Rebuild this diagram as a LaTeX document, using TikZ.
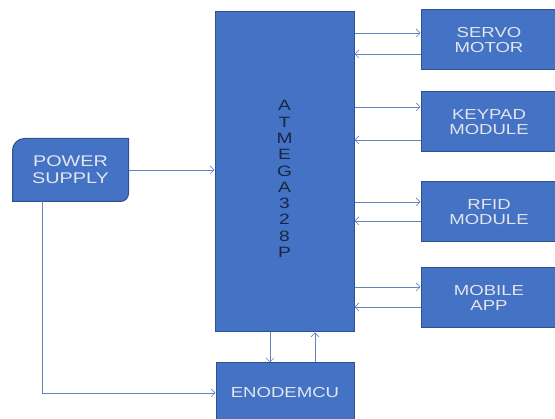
\documentclass[tikz,border=0pt]{standalone}
\usepackage{fontspec}
\setmainfont{Liberation Sans}[FakeStretch=1.28]
\usetikzlibrary{arrows.meta,backgrounds}
\definecolor{boxblue}{HTML}{4472C4}
\definecolor{boxedge}{HTML}{2F528F}
\definecolor{linkblue}{HTML}{6483BD}
\definecolor{boxtext}{HTML}{E4E6EE}
\definecolor{chiptext}{HTML}{1A2744}

\begin{document}
\begin{tikzpicture}[x=1pt,y=-1pt,
	block/.style={ rectangle, draw=boxedge, line width=1pt, fill=boxblue, text=boxtext, inner sep=0pt, align=center, font=\fontsize{14.5}{15.5}\selectfont },
	link/.style={ draw=linkblue, line width=0.7pt, -{Straight Barb[length=4pt,width=8pt]} }
]

\useasboundingbox (0,0) rectangle (555,419);

\node[block, minimum width=139pt, minimum height=320pt, text=chiptext, font=\fontsize{15}{16.3}\selectfont] at (284.5,172) (atmega) {\raisebox{-12.5pt}[0pt][0pt]{\begin{tabular}{@{}c@{}}A\\T\\M\\E\\G\\A\\3\\2\\8\\P\end{tabular}}};
\node[block, minimum width=136pt, minimum height=60pt] at (489,40) (servo) {SERVO\\MOTOR};
\node[block, minimum width=136pt, minimum height=60pt] at (489,122) (keypad) {KEYPAD\\MODULE};
\node[block, minimum width=136pt, minimum height=60pt] at (489,212) (rfid) {RFID\\MODULE};
\node[block, minimum width=136pt, minimum height=60pt] at (489,298) (mobile) {MOBILE\\APP};
\node[block, minimum width=138pt, minimum height=60pt] at (285,393) (enode) {ENODEMCU};
\node[block, draw=none, fill=none, minimum width=115pt, minimum height=62pt, font=\fontsize{15.5}{17}\selectfont] at (70.5,170) (power) {POWER\\SUPPLY};
\begin{scope}[on background layer]
\filldraw[draw=boxedge, line width=1pt, fill=boxblue] (power.south west) [rounded corners=12pt] -- (power.north west) [sharp corners] -- (power.north east) [rounded corners=8pt] -- (power.south east) [sharp corners] -- cycle;
\end{scope}

\draw[link] (power.east) -- (power.east -| atmega.west);
\draw[link] ([xshift=-28.5pt]power.south) |- (enode.west);
\draw[link] ([yshift=7pt]servo.west -| atmega.east) -- ([yshift=7pt]servo.west);
\draw[link] ([yshift=-14pt]servo.west) -- ([yshift=-14pt]servo.west -| atmega.east);
\draw[link] ([yshift=15pt]keypad.west -| atmega.east) -- ([yshift=15pt]keypad.west);
\draw[link] ([yshift=-18pt]keypad.west) -- ([yshift=-18pt]keypad.west -| atmega.east);
\draw[link] ([yshift=10pt]rfid.west -| atmega.east) -- ([yshift=10pt]rfid.west);
\draw[link] ([yshift=-9pt]rfid.west) -- ([yshift=-9pt]rfid.west -| atmega.east);
\draw[link] ([yshift=11pt]mobile.west -| atmega.east) -- ([yshift=11pt]mobile.west);
\draw[link] ([yshift=-9pt]mobile.west) -- ([yshift=-9pt]mobile.west -| atmega.east);
\draw[link] ([xshift=-14.5pt]atmega.south) -- ([xshift=-14.5pt]atmega.south |- enode.north);
\draw[link] ([xshift=30.5pt]atmega.south |- enode.north) -- ([xshift=30.5pt]atmega.south);

\end{tikzpicture}
\end{document}
